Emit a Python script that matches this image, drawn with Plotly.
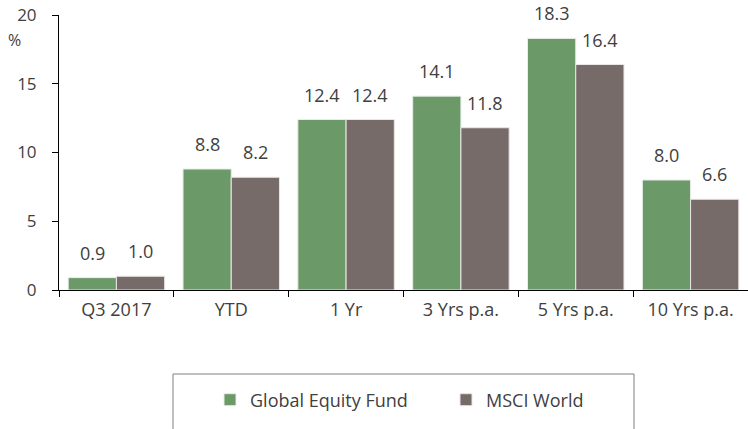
import plotly.graph_objects as go

categories = ["Q3 2017", "YTD", "1 Yr", "3 Yrs p.a.", "5 Yrs p.a.", "10 Yrs p.a."]
fund_values = [0.9, 8.8, 12.4, 14.1, 18.3, 8.0]
msci_values = [1.0, 8.2, 12.4, 11.8, 16.4, 6.6]
fund_name = "Global Equity Fund"
msci_name = "MSCI World"
y_ticks = [0, 5, 10, 15, 20]

FONT = "Open Sans"
FS = 18
TXT = "#404040"

L, T, R, B = 59, 15, 0, 139
PW = 748 - L - R      # 689
PH = 429 - T - B      # 275
BARGAP = 0.16
bar_px = PW / len(categories) * (1 - BARGAP) / 2

fig = go.Figure()
fig.add_trace(go.Bar(
    x=categories, y=fund_values, name=fund_name,
    marker=dict(color="#6B9968", line=dict(color="#E8EDE8", width=1)),
))
fig.add_trace(go.Bar(
    x=categories, y=msci_values, name=msci_name,
    marker=dict(color="#766B69", line=dict(color="#E8E6E6", width=1)),
))

annotations = []
for vals, sign in ((fund_values, -1), (msci_values, 1)):
    for c, v in zip(categories, vals):
        annotations.append(dict(
            x=c, y=v, xref="x", yref="y", text=f"{v:.1f}", showarrow=False,
            xanchor="center", yanchor="bottom", xshift=sign * bar_px / 2, yshift=11,
            font=dict(family=FONT, size=FS, color=TXT),
        ))
annotations.append(dict(
    text="%", xref="paper", yref="paper", x=(14 - L) / PW, y=(290 - 40) / PH,
    xanchor="center", yanchor="middle", showarrow=False,
    font=dict(family=FONT, size=16, color=TXT),
))

fig.update_layout(
    width=748, height=429,
    margin=dict(l=L, r=R, t=T, b=B, autoexpand=False),
    paper_bgcolor="white", plot_bgcolor="white",
    barmode="group", bargap=BARGAP, bargroupgap=0,
    font=dict(family=FONT, size=FS, color=TXT),
    showlegend=True,
    legend=dict(
        orientation="h", x=(210 - 59) / PW, xanchor="left", y=-0.40, yanchor="middle",
        font=dict(family=FONT, size=FS, color=TXT),
        entrywidth=191, entrywidthmode="pixels",
        itemwidth=30, bgcolor="rgba(0,0,0,0)",
    ),
    xaxis=dict(
        type="category", showline=True, linecolor="#000000", linewidth=1,
        ticks="outside", tickson="boundaries", ticklen=6, tickcolor="#000000",
        showgrid=False, automargin=False, ticklabelstandoff=3,
        tickfont=dict(family=FONT, size=FS, color=TXT),
    ),
    yaxis=dict(
        range=[0, 20], tickvals=y_ticks, showline=True, linecolor="#000000",
        linewidth=1, ticks="outside", ticklen=6, tickcolor="#000000",
        showgrid=False, zeroline=False, automargin=False, ticklabelstandoff=12,
        ticklabeloverflow="allow",
        tickfont=dict(family=FONT, size=17, color=TXT),
    ),
    shapes=[dict(
        type="rect", xref="paper", yref="paper",
        x0=(173 - 59) / PW, x1=(634 - 59) / PW,
        y0=(290 - 374) / PH, y1=(290 - 440) / PH,
        line=dict(color="#7F7F7F", width=1), fillcolor="rgba(0,0,0,0)",
    )],
    annotations=annotations,
)

fig.write_html("out.html", config={"displayModeBar": False},
               post_script="document.body.style.margin='0';")
